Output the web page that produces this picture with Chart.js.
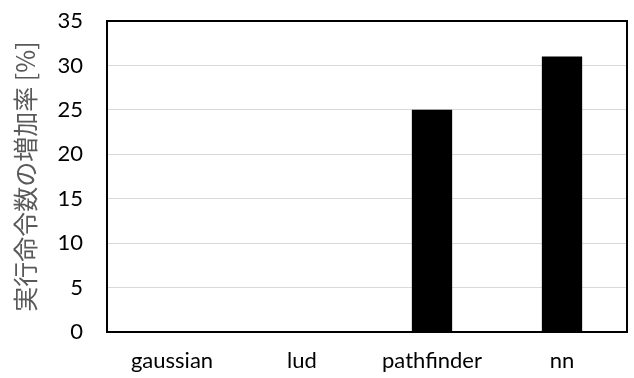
<!DOCTYPE html>
<html>
<head>
<meta charset="utf-8">
<script src="https://cdn.jsdelivr.net/npm/chart.js@4"></script>
<style>
  html, body { margin: 0; padding: 0; background: #fff; }
  #wrap { width: 634px; height: 378px; position: relative; }
</style>
</head>
<body>
<div id="wrap"><canvas id="c"></canvas></div>
<script>
// categories and values
const categories = ["gaussian", "lud", "pathfinder", "nn"];
const increaseRate = [0, 0, 25, 31];
const yTicks = [0, 5, 10, 15, 20, 25, 30, 35];
const yTitle = "実行命令数の増加率 [%]";

const tickFont = { family: "Lato, 'Noto Sans', sans-serif", size: 22 };

// frame around the plot area, like the spreadsheet chart
const frame = {
  id: "frame",
  afterDatasetsDraw(chart) {
    const a = chart.chartArea;
    const c = chart.ctx;
    c.save();
    c.strokeStyle = "#000";
    c.lineWidth = 2;
    c.strokeRect(a.left, a.top, a.right - a.left, a.bottom - a.top);
    c.restore();
  },
};

new Chart(document.getElementById("c"), {
  type: "bar",
  data: {
    labels: categories,
    datasets: [{
      data: increaseRate,
      backgroundColor: "#000",
      borderColor: "#000",
      borderWidth: 0,
      barPercentage: 0.31,
      categoryPercentage: 1,
    }],
  },
  options: {
    responsive: true,
    maintainAspectRatio: false,
    animation: false,
    layout: { padding: { top: 21, right: 7, left: 0, bottom: 0 } },
    plugins: { legend: { display: false }, tooltip: { enabled: false } },
    scales: {
      x: {
        grid: { display: false },
        border: { display: false },
        ticks: { color: "#000", font: tickFont, padding: 8, maxRotation: 0 },
        afterFit(s) { s.height = 46; },
      },
      y: {
        min: 0,
        max: 35,
        afterBuildTicks(s) { s.ticks = yTicks.map((v) => ({ value: v })); },
        grid: { color: "#d9d9d9", lineWidth: 1, drawTicks: false },
        border: { display: false },
        ticks: { color: "#000", font: tickFont, padding: 24 },
        title: {
          display: true,
          text: yTitle,
          color: "#595959",
          font: { family: "'Noto Sans CJK JP', sans-serif", size: 25 },
          padding: { top: 10, bottom: 0 },
        },
        afterFit(s) {
          s.width = 107;
          // label padding would push the plot down; the layout padding handles it
          s.paddingTop = 0;
          s.paddingBottom = 0;
        },
      },
    },
  },
  plugins: [frame],
});
</script>
</body>
</html>
